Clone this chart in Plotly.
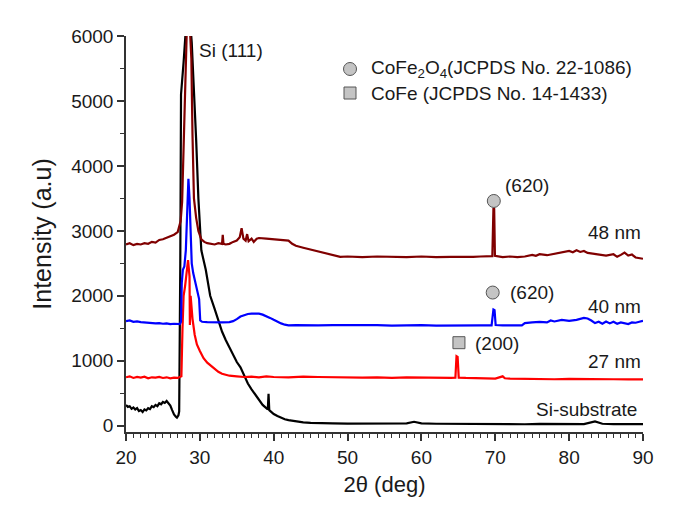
import plotly.graph_objects as go

# ---------------- data ----------------
si_x = [20, 20.25, 20.5, 20.75, 21, 21.25, 21.5, 21.75, 22, 22.25, 22.5, 22.75, 23, 23.25, 23.5, 23.75,
        24, 24.25, 24.5, 24.75, 25, 25.25, 25.5, 25.75, 26, 26.25, 26.5, 26.75, 26.9, 27.1, 27.2, 27.35, 27.45,
        27.8, 28.1, 28.4, 28.7, 28.9, 29.2, 29.5, 29.8, 30.0, 30.2, 30.8, 31.4, 32, 32.5, 33, 33.5, 34,
        34.5, 35, 35.5, 35.8, 36.1, 36.5, 37, 37.5, 38, 38.5, 39, 39.2, 39.3, 39.4, 39.7, 40, 40.5, 41,
        41.5, 42, 43, 44, 45, 46, 48, 50, 52, 54, 56, 58, 59, 60, 62, 64, 66, 68, 70, 72, 74, 76, 78,
        80, 82, 83.5, 84.5, 86, 88, 90]
si_y = [320, 290, 300, 260, 280, 250, 270, 225, 240, 210, 250, 235, 270, 255, 300, 285, 320, 300,
        345, 330, 365, 350, 380, 345, 310, 240, 175, 140, 125, 160, 220, 2500, 5100,
        5600, 6100, 8000, 6200, 5900, 5200, 4400, 3500, 3000, 2700, 2400, 2000, 1800, 1620, 1450, 1320, 1200,
        1080, 980, 900, 830, 740, 650, 560, 480, 400, 320, 270, 250, 490, 240, 210, 180, 150, 120,
        100, 85, 65, 52, 45, 40, 35, 32, 30, 32, 28, 35, 60, 35, 30, 28, 30, 25, 28, 25, 22, 28, 25,
        22, 25, 65, 30, 25, 28, 25]

n27_x = [20, 20.5, 21, 21.5, 22, 22.5, 23, 23.5, 24, 24.5, 25, 25.5, 26, 26.5, 27, 27.3, 27.5, 27.65,
         27.8, 28.0, 28.2, 28.4, 28.6, 28.65, 28.75, 29, 29.3, 29.6, 30, 30.5, 31, 31.5, 32, 32.5, 33,
         33.5, 34, 35, 36, 37, 38, 39, 40, 42, 44, 46, 48, 50, 52, 54, 56, 58, 60, 62, 63, 64, 64.6,
         64.75, 64.9, 65.05, 66, 68, 70, 71, 71.3, 72, 74, 76, 78, 80, 82, 84, 86, 88, 90]
n27_y = [745, 760, 735, 750, 740, 755, 730, 745, 740, 750, 735, 745, 730, 740, 735, 745, 760, 1500,
         2000, 2150, 2350, 2550, 2300, 1550, 2000, 1650, 1400, 1250, 1150, 1040, 970, 920, 870, 830, 800,
         785, 770, 760, 750, 755, 745, 760, 750, 745, 755, 750, 745, 750, 740, 745, 735, 745, 740, 730, 735, 735, 740,
         1070, 1060, 740, 735, 730, 725, 760, 730, 725, 720, 725, 715, 720, 715, 720, 715, 712, 713]

n40_x = [20, 20.5, 21, 21.5, 22, 22.5, 23, 23.5, 24, 24.5, 25, 25.5, 26, 26.5, 27, 27.3, 27.45, 27.55,
         27.7, 27.9, 28.1, 28.3, 28.45, 28.6, 28.75, 28.9, 29.1, 29.3, 29.5, 29.7, 29.9, 30.05, 30.3, 31,
         32, 33, 34, 34.5, 35, 35.5, 36, 36.5, 37, 37.5, 38, 38.5, 39, 39.5, 40, 40.5, 41, 41.5, 42, 43,
         44, 45, 46, 48, 50, 52, 54, 56, 58, 60, 62, 64, 66, 68, 69.5, 69.75, 69.9, 70.05, 71, 72, 73,
         73.6, 74, 75, 76, 77, 77.5, 78, 79, 80, 81, 82, 82.5, 83, 83.5, 84, 84.5, 85, 85.5, 86, 86.5,
         87, 87.5, 88, 88.5, 89, 89.5, 90]
n40_y = [1610, 1620, 1600, 1605, 1595, 1590, 1580, 1585, 1575, 1580, 1570, 1575, 1565, 1570, 1560, 1565, 1600, 2200,
         2400, 2450, 2700, 3400, 3800, 3500, 2800, 2500, 2350, 2250, 2100, 2000, 1950, 1620, 1600, 1595,
         1590, 1590, 1595, 1610, 1640, 1680, 1700, 1720, 1725, 1730, 1725, 1710, 1690, 1660, 1630, 1600, 1575, 1555, 1545, 1550,
         1545, 1550, 1545, 1548, 1550, 1545, 1548, 1540, 1545, 1550, 1540, 1545, 1540, 1545, 1545, 1790, 1780, 1550, 1545, 1540, 1545,
         1545, 1580, 1590, 1600, 1590, 1620, 1605, 1630, 1615, 1630, 1660, 1650, 1620, 1580, 1600, 1570, 1605, 1575, 1600, 1570,
         1590, 1575, 1565, 1590, 1585, 1600, 1615]

n48_x = [20, 20.5, 21, 21.5, 22, 22.5, 23, 23.5, 24, 24.5, 25, 25.5, 26, 26.5, 27, 27.4, 27.6, 27.9,
         28.1, 28.4, 28.7, 28.85, 29.0, 29.2, 29.5, 29.8, 30.2, 30.6, 31, 31.5, 32, 32.5, 33, 33.1, 33.2,
         33.5, 34, 34.5, 35, 35.4, 35.65, 35.9, 36.2, 36.4, 36.6, 37, 37.3, 37.7, 38, 39, 40, 41, 41.5,
         42, 42.5, 43, 44, 45, 46, 47, 48, 49, 50, 52, 54, 56, 58, 60, 62, 64, 66, 67, 68, 69, 69.6,
         69.75, 69.85, 69.95, 70.5, 71, 72, 73, 74, 75, 75.5, 76, 77, 78, 79, 80, 80.5, 81, 81.5, 82,
         82.5, 83, 84, 85, 86, 86.5, 87, 87.5, 88, 88.5, 89, 89.5, 90]
n48_y = [2790, 2810, 2780, 2800, 2790, 2810, 2800, 2830, 2820, 2860, 2870, 2890, 2910, 2940, 2980, 3150, 3450, 5000,
         6100, 6800, 6000, 5650, 4500, 3500, 3200, 3000, 2870, 2830, 2810, 2800, 2790, 2810, 2800, 2940, 2800,
         2790, 2800, 2830, 2850, 2900, 3040, 2880, 2850, 2950, 2840, 2880, 2830, 2880, 2890, 2880, 2870, 2860, 2850,
         2850, 2800, 2770, 2740, 2710, 2680, 2650, 2620, 2600, 2605, 2595, 2605, 2600, 2595, 2605, 2595, 2600, 2595, 2600, 2605, 2605, 2610,
         3350, 3340, 2615, 2605, 2595, 2605, 2595, 2605, 2630, 2615, 2640, 2625, 2650, 2670, 2690, 2670, 2700, 2675, 2690,
         2660, 2650, 2640, 2620, 2640, 2600, 2630, 2665, 2620, 2635, 2590, 2580, 2570]

series_names = ["Si-substrate", "27 nm", "40 nm", "48 nm"]
series_colors = ["#000000", "#ff0000", "#0000ff", "#800000"]

# annotation markers (CoFe2O4 circles, CoFe square) and legend symbols
cofe2o4_x = [69.8, 69.65]
cofe2o4_y = [3460, 2050]
cofe_x = [65.08]
cofe_y = [1278]
legend_sym_x = [50.33, 50.33]
legend_sym_y = [5492, 5122]

x_ticks = [20, 30, 40, 50, 60, 70, 80, 90]
y_ticks = [0, 1000, 2000, 3000, 4000, 5000, 6000]

FONT = "Liberation Sans, Arial, sans-serif"
TXT = "#1a1a1a"

fig = go.Figure()
for xs, ys, name, col in zip([si_x, n27_x, n40_x, n48_x], [si_y, n27_y, n40_y, n48_y],
                             series_names, series_colors):
    fig.add_trace(go.Scatter(x=xs, y=ys, mode="lines", name=name,
                             line=dict(color=col, width=2.2), showlegend=False))

fig.add_trace(go.Scatter(x=cofe2o4_x, y=cofe2o4_y, mode="markers", showlegend=False,
                         marker=dict(symbol="circle", size=13, color="#c4c4c4",
                                     line=dict(color="#555555", width=1))))
fig.add_trace(go.Scatter(x=cofe_x, y=cofe_y, mode="markers", showlegend=False,
                         marker=dict(symbol="square", size=12, color="#c4c4c4",
                                     line=dict(color="#555555", width=1))))
fig.add_trace(go.Scatter(x=legend_sym_x[:1], y=legend_sym_y[:1], mode="markers", showlegend=False,
                         marker=dict(symbol="circle", size=13, color="#c4c4c4",
                                     line=dict(color="#555555", width=1))))
fig.add_trace(go.Scatter(x=legend_sym_x[1:], y=legend_sym_y[1:], mode="markers", showlegend=False,
                         marker=dict(symbol="square", size=12, color="#c4c4c4",
                                     line=dict(color="#555555", width=1))))

ann = [
    dict(x=29.61, y=5784, text="Si (111)", xanchor="left"),
    dict(x=52.9, y=5492, text="CoFe<sub>2</sub>O<sub>4</sub>(JCPDS No. 22-1086)", xanchor="left"),
    dict(x=52.9, y=5122, text="CoFe (JCPDS No. 14-1433)", xanchor="left"),
    dict(x=71.04, y=3706, text="(620)", xanchor="left"),
    dict(x=90, y=2967, text="48 nm", xanchor="right"),
    dict(x=71.72, y=2050, text="(620)", xanchor="left"),
    dict(x=90, y=1828, text="40 nm", xanchor="right"),
    dict(x=66.98, y=1258, text="(200)", xanchor="left"),
    dict(x=90, y=981, text="27 nm", xanchor="right"),
    dict(x=89.4, y=242, text="Si-substrate", xanchor="right"),
]
for a in ann:
    fig.add_annotation(xref="x", yref="y", showarrow=False, yanchor="middle",
                       font=dict(family=FONT, size=19, color=TXT), **a)

fig.update_layout(
    width=675, height=524,
    margin=dict(l=126, r=32, t=36, b=92),
    paper_bgcolor="white", plot_bgcolor="white",
    font=dict(family=FONT, color=TXT),
)
fig.update_xaxes(
    range=[20, 90], tickvals=x_ticks, ticks="outside", ticklen=7, tickwidth=1.5,
    tickcolor="#333", showline=True, linecolor="#333", linewidth=1.5, showgrid=False,
    zeroline=False, tickfont=dict(size=19, family=FONT, color=TXT),
    minor=dict(dtick=1, ticks="outside", ticklen=4, tickcolor="#333", tickwidth=1),
    title=dict(text="2θ (deg)", font=dict(size=22, family=FONT, color=TXT), standoff=10),
)
fig.update_yaxes(
    range=[-97, 6000], tickvals=y_ticks, ticks="outside", ticklen=7, tickwidth=1.5,
    tickcolor="#333", showline=True, linecolor="#333", linewidth=1.5, showgrid=False,
    zeroline=False, tickfont=dict(size=19, family=FONT, color=TXT),
    minor=dict(dtick=500, ticks="outside", ticklen=4, tickcolor="#333", tickwidth=1),
    title=dict(text="Intensity (a.u)", font=dict(size=25, family=FONT, color=TXT), standoff=12),
)

fig.write_html("out.html")
